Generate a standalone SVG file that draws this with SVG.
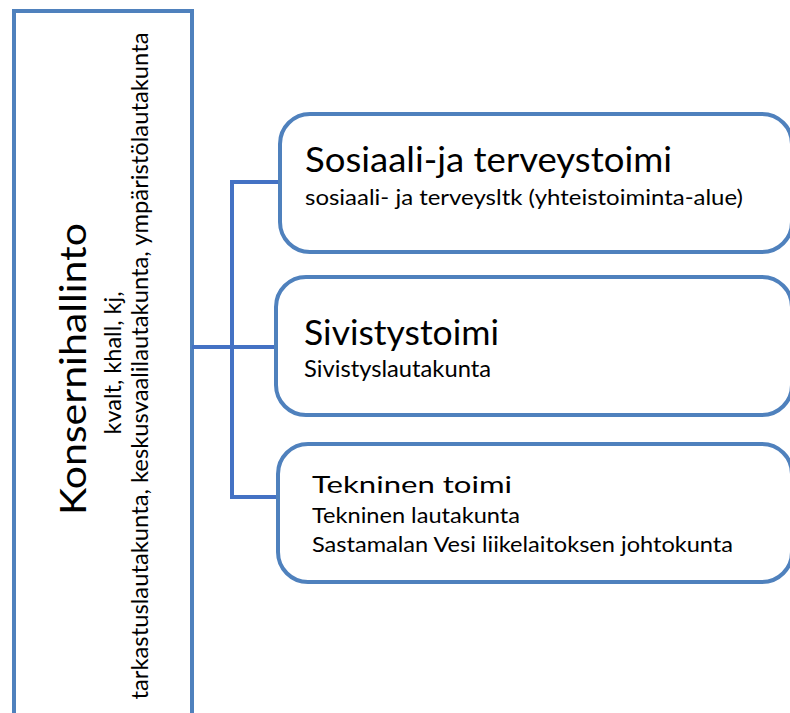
<svg xmlns="http://www.w3.org/2000/svg" width="790" height="713" viewBox="0 0 790 713">
<style>
.box{fill:#ffffff;stroke:#4F81BD;stroke-width:4}
.conn{fill:none;stroke:#4472C4;stroke-width:4}
text{font-family:Lato,"Open Sans","Liberation Sans",sans-serif;fill:#000000}
</style>
<rect width="790" height="713" fill="#ffffff"/>
<g id="konsernihallinto">
<rect class="box" x="14" y="11" width="178" height="720"/>
<text transform="translate(86,369) rotate(-90)" text-anchor="middle" font-size="36" textLength="292" lengthAdjust="spacingAndGlyphs">Konsernihallinto</text>
<text transform="translate(121,363) rotate(-90)" text-anchor="middle" font-size="24" textLength="143" lengthAdjust="spacingAndGlyphs">kvalt, khall, kj,</text>
<text transform="translate(148,366) rotate(-90)" text-anchor="middle" font-size="24" textLength="667" lengthAdjust="spacingAndGlyphs">tarkastuslautakunta, keskusvaalilautakunta, ympäristölautakunta</text>
</g>
<g id="connectors">
<path class="conn" d="M192,347 H276"/>
<path class="conn" d="M280,182 H232 V497 H278"/>
</g>
<g id="sosiaali">
<rect class="box" x="280" y="114" width="512" height="138" rx="30" ry="30"/>
<text x="305" y="172" font-size="34" textLength="367" lengthAdjust="spacingAndGlyphs">Sosiaali-ja terveystoimi</text>
<text x="305" y="205" font-size="22" textLength="438" lengthAdjust="spacingAndGlyphs">sosiaali- ja terveysltk (yhteistoiminta-alue)</text>
</g>
<g id="sivistys">
<rect class="box" x="276" y="277" width="516" height="138" rx="30" ry="30"/>
<text x="304" y="345" font-size="34" textLength="195" lengthAdjust="spacingAndGlyphs">Sivistystoimi</text>
<text x="304" y="377" font-size="24" textLength="187" lengthAdjust="spacingAndGlyphs">Sivistyslautakunta</text>
</g>
<g id="tekninen">
<rect class="box" x="278" y="444" width="514" height="138" rx="30" ry="30"/>
<text x="312" y="493" font-size="24" textLength="200" lengthAdjust="spacingAndGlyphs">Tekninen toimi</text>
<text x="312" y="523" font-size="21" textLength="208" lengthAdjust="spacingAndGlyphs">Tekninen lautakunta</text>
<text x="312" y="552" font-size="21" textLength="421" lengthAdjust="spacingAndGlyphs">Sastamalan Vesi liikelaitoksen johtokunta</text>
</g>
</svg>
